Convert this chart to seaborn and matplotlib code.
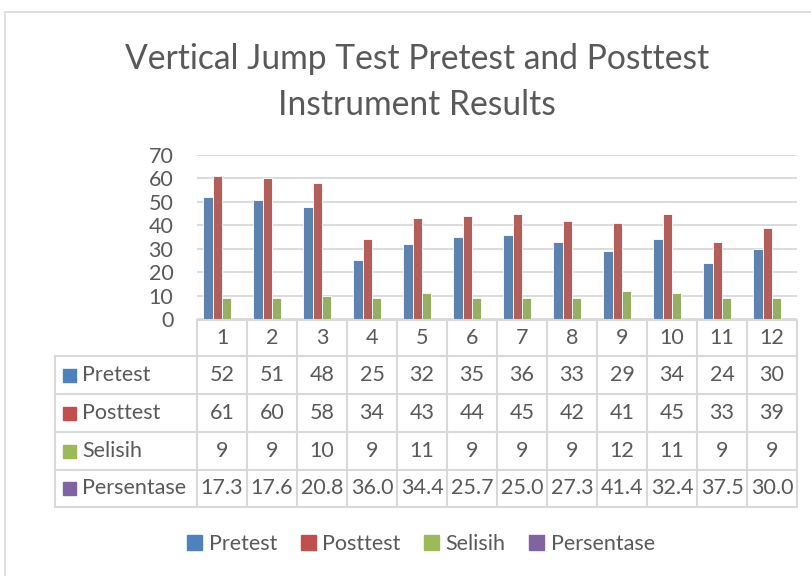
import seaborn as sns
import matplotlib.pyplot as plt
import pandas as pd
from matplotlib.patches import Rectangle
from matplotlib.transforms import blended_transform_factory

# data
subjects = [str(i) for i in range(1, 13)]
pretest = [52, 51, 48, 25, 32, 35, 36, 33, 29, 34, 24, 30]
posttest = [61, 60, 58, 34, 43, 44, 45, 42, 41, 45, 33, 39]
selisih = [9, 9, 10, 9, 11, 9, 9, 9, 12, 11, 9, 9]
persentase = [17.3, 17.6, 20.8, 36.0, 34.4, 25.7, 25.0, 27.3, 41.4, 32.4, 37.5, 30.0]
series = ['Pretest', 'Posttest', 'Selisih', 'Persentase']
colors = ['#4F81BD', '#C0504D', '#9BBB59', '#8064A2']
title = 'Vertical Jump Test Pretest and Posttest\nInstrument Results'

sns.set_style('white')
plt.rcParams['font.family'] = ['Lato', 'DejaVu Sans']
txt = '#595959'
grid = '#D9D9D9'
fs = 15.5

W, H = 812, 576
fig = plt.figure(figsize=(W / 100, H / 100), dpi=100)

def fx(x):
    return x / W

def fy(y):
    return 1 - y / H

ax = fig.add_axes([fx(197), fy(319), fx(797) - fx(197), fy(155) - fy(319)])

# bars (Persentase keeps its slot in the cluster but is not drawn as a bar)
bars = pd.DataFrame({
    'no': subjects * 3,
    'series': ['Pretest'] * 12 + ['Posttest'] * 12 + ['Selisih'] * 12,
    'value': pretest + posttest + selisih,
})
sns.barplot(data=bars, x='no', y='value', hue='series', order=subjects,
            hue_order=series, palette=dict(zip(series, colors)),
            width=0.74, errorbar=None, edgecolor='white', linewidth=0.6,
            legend=False, ax=ax, zorder=3)

ax.set_ylim(0, 70)
ax.set_xlim(-0.5, 11.5)
ax.set_yticks(range(0, 71, 10))
ax.yaxis.grid(True, color=grid, linewidth=1.3)
ax.set_axisbelow(True)
ax.set_xlabel('')
ax.set_ylabel('')
ax.set_xticks([])
ax.tick_params(axis='y', length=0, labelsize=fs, labelcolor=txt, pad=17)
for s in ax.spines.values():
    s.set_visible(False)

# data table under the axis
tr = blended_transform_factory(ax.transData, fig.transFigure)
top, head = 320, 356
rows = [394, 432, 470, 507]
lk = dict(color=grid, linewidth=1.5, transform=fig.transFigure, clip_on=False)
fig.add_artist(plt.Line2D([fx(197), fx(797)], [fy(top), fy(top)], **lk))
for y in [head] + rows:
    fig.add_artist(plt.Line2D([fx(55), fx(797)], [fy(y), fy(y)], **lk))
fig.add_artist(plt.Line2D([fx(55), fx(55)], [fy(head), fy(rows[-1])], **lk))
for i in range(13):
    ax.plot([i - 0.5, i - 0.5], [fy(top), fy(rows[-1])], color=grid,
            linewidth=1.5, transform=tr, clip_on=False)

for i, s in enumerate(subjects):
    ax.text(i, fy((top + head) / 2), s, transform=tr, ha='center',
            va='center', fontsize=fs, color=txt)

table = [pretest, posttest, [str(v) for v in selisih],
         ['%.1f' % v for v in persentase]]
bounds = [head] + rows
for r, (name, col, vals) in enumerate(zip(series, colors, table)):
    yc = (bounds[r] + bounds[r + 1]) / 2
    fig.add_artist(Rectangle((fx(63), fy(yc + 6.5)), fx(13), 13 / H,
                             color=col, transform=fig.transFigure))
    fig.text(fx(82), fy(yc), name, ha='left', va='center',
             fontsize=fs, color=txt)
    for i, v in enumerate(vals):
        ax.text(i, fy(yc), str(v), transform=tr, ha='center', va='center',
                fontsize=fs, color=txt)

# legend
handles = [Rectangle((0, 0), 1, 1, color=c) for c in colors]
fig.legend(handles, series, loc='center', bbox_to_anchor=(fx(421), fy(544)),
           ncol=4, frameon=False, fontsize=fs, labelcolor=txt,
           handlelength=0.7, handleheight=0.7, handletextpad=0.3,
           columnspacing=1.1)

fig.text(fx(417), fy(82), title, ha='center', va='center', fontsize=24.2,
         color=txt, linespacing=1.55)

# chart frame
fig.add_artist(Rectangle((fx(5), fy(600)), fx(900), 588 / H, fill=False,
                         edgecolor=grid, linewidth=1.2,
                         transform=fig.transFigure))

fig.savefig('out.png', dpi=100)
